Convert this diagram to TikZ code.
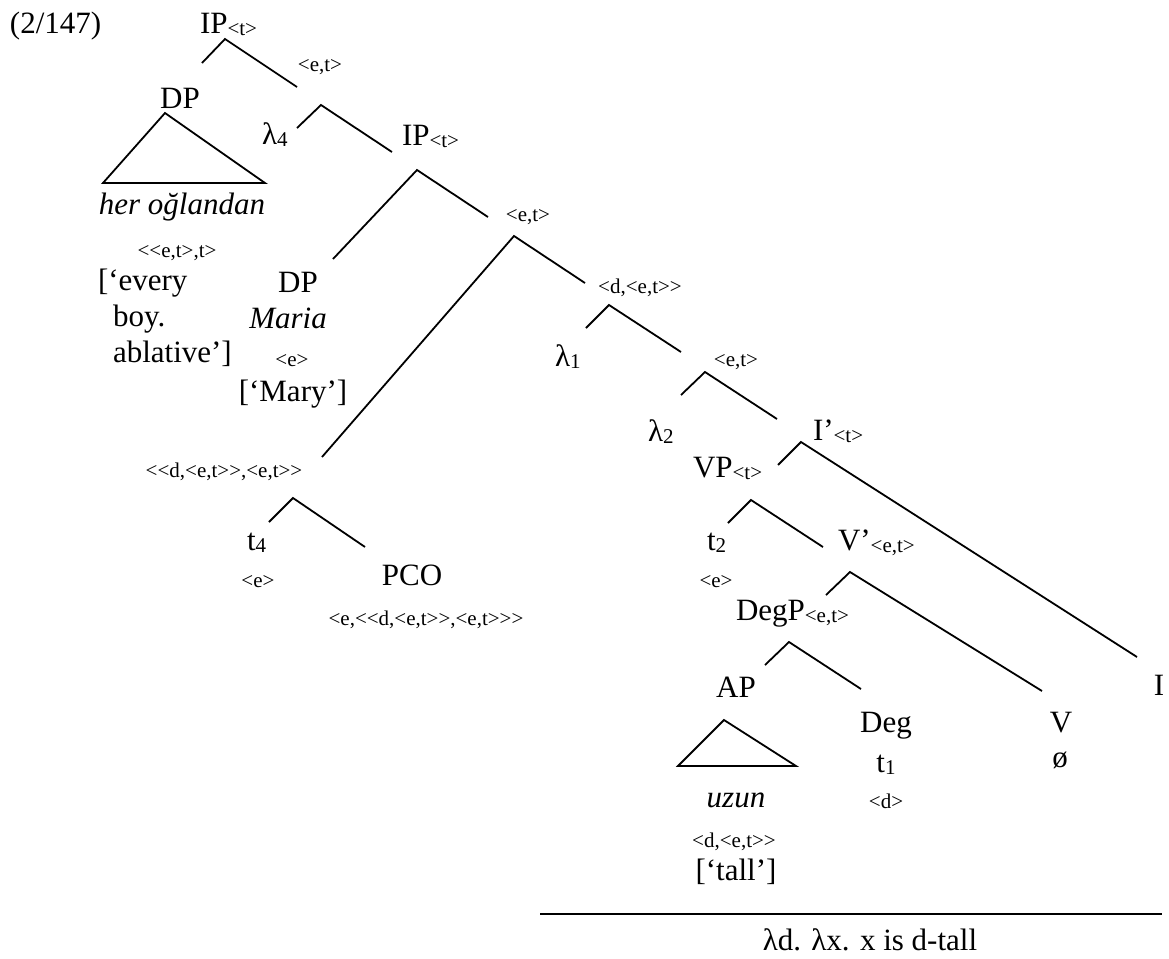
\documentclass[tikz,border=0pt]{standalone}
\usepackage{fontspec}
\setmainfont{Liberation Serif}[Ligatures=TeXOff]
\newcommand\bigfont{\fontsize{15.5}{18}\selectfont}
\newcommand\smfont{\fontsize{10.5}{12}\selectfont}
\newcommand\tsub[1]{\raisebox{-1pt}{\smfont #1}}
\begin{document}
\begin{tikzpicture}[x=0.5pt,y=-0.5pt,
  every node/.style={inner sep=0pt, outer sep=0pt, font=\bigfont},
  lbl/.style={anchor=base},
  lw/.style={anchor=base west},
  ty/.style={anchor=base, font=\smfont},
  br/.style={line width=0.9pt, line join=miter}]
\useasboundingbox (0,0) rectangle (1169,959);

% ---------- labels ----------
\node[lw] (num) at (10,33) {(2/147)};
\node[lw] (ip1) at (200,33) {IP\tsub{<t>}};
\node[ty] (ip1r) at (320,71) {<e,t>};
\node[lbl] (dp1) at (180,108) {DP};
\node[lbl] (her) at (182,214) {\itshape her oğlandan};
\node[ty] (dp1t) at (177,257) {<<e,t>,t>};
\node[lw] (ev1) at (98,290) {[‘every};
\node[lw] (ev2) at (113,326) {boy.};
\node[lw] (ev3) at (113,362) {ablative’]};
\node[lw] (lam4) at (262,144) {λ\tsub{4}};
\node[lw] (ip2) at (402,145) {IP\tsub{<t>}};
\node[ty] (ip2r) at (528,221) {<e,t>};
\node[lbl] (dp2) at (298,292) {DP};
\node[lbl] (maria) at (288,328) {\itshape Maria};
\node[ty] (dp2t) at (292,366) {<e>};
\node[lbl] (mary) at (293,401) {[‘Mary’]};
\node[ty] (pco1t) at (224,477) {<<d,<e,t>>,<e,t>>};
\node[lw] (t4) at (247,550) {t\tsub{4}};
\node[ty] (t4t) at (258,587) {<e>};
\node[lbl] (pco) at (412,585) {PCO};
\node[ty] (pcot) at (426,625) {<e,<<d,<e,t>>,<e,t>>>};
\node[ty] (x1) at (640,293) {<d,<e,t>>};
\node[lw] (lam1) at (555,366) {λ\tsub{1}};
\node[ty] (x2) at (736,366) {<e,t>};
\node[lw] (lam2) at (648,441) {λ\tsub{2}};
\node[lw] (ibar) at (813,440) {I’\tsub{<t>}};
\node[lw] (vp) at (693,477) {VP\tsub{<t>}};
\node[lw] (t2) at (707,550) {t\tsub{2}};
\node[ty] (t2t) at (716,587) {<e>};
\node[lw] (vbar) at (838,550) {V’\tsub{<e,t>}};
\node[lw] (degp) at (736,620) {DegP\tsub{<e,t>}};
\node[lbl] (ap) at (736,697) {AP};
\node[lbl] (deg) at (886,732) {Deg};
\node[lbl] (t1) at (886,772) {t\tsub{1}};
\node[ty] (t1t) at (886,808) {<d>};
\node[lbl] (uzun) at (736,807) {\itshape uzun};
\node[ty] (uzunt) at (734,847) {<d,<e,t>>};
\node[lbl] (tall) at (736,880) {[‘tall’]};
\node[lbl] (v) at (1061,732) {V};
\node[lbl] (vnull) at (1060,767) {ø};
\node[lbl] (i) at (1159,695) {I};
\node[lbl] (gloss) at (870,950) {λd. λx. x is d-tall};

% ---------- branch points ----------
\coordinate (b1) at (225,39);  \coordinate (b1l) at (202,63);  \coordinate (b1r) at (297,87);
\coordinate (tr1) at (165,113); \coordinate (tr1l) at (103,183); \coordinate (tr1r) at (265,183);
\coordinate (b2) at (321,105); \coordinate (b2l) at (297,128); \coordinate (b2r) at (392,152);
\coordinate (b3) at (417,170); \coordinate (b3l) at (333,259); \coordinate (b3r) at (488,217);
\coordinate (b4) at (514,236); \coordinate (b4l) at (322,457); \coordinate (b4r) at (585,283);
\coordinate (b5) at (609,305); \coordinate (b5l) at (586,328); \coordinate (b5r) at (681,352);
\coordinate (b6) at (705,372); \coordinate (b6l) at (681,395); \coordinate (b6r) at (777,419);
\coordinate (b7) at (801,442); \coordinate (b7l) at (778,465); \coordinate (b7r) at (1137,657);
\coordinate (b8) at (751,500); \coordinate (b8l) at (728,523); \coordinate (b8r) at (823,547);
\coordinate (b9) at (850,572); \coordinate (b9l) at (826,595); \coordinate (b9r) at (1042,691);
\coordinate (b10) at (789,642); \coordinate (b10l) at (765,665); \coordinate (b10r) at (861,689);
\coordinate (tr2) at (724,720); \coordinate (tr2l) at (678,766); \coordinate (tr2r) at (796,766);
\coordinate (b11) at (293,498); \coordinate (b11l) at (269,522); \coordinate (b11r) at (365,547);
\coordinate (rulel) at (540,914); \coordinate (ruler) at (1162,914);

% ---------- branches ----------
\draw[br] (b1l) -- (b1) -- (b1r);
\draw[br] (tr1) -- (tr1l) -- (tr1r) -- cycle;
\draw[br] (b2l) -- (b2) -- (b2r);
\draw[br] (b3l) -- (b3) -- (b3r);
\draw[br] (b4l) -- (b4) -- (b4r);
\draw[br] (b5l) -- (b5) -- (b5r);
\draw[br] (b6l) -- (b6) -- (b6r);
\draw[br] (b7l) -- (b7) -- (b7r);
\draw[br] (b8l) -- (b8) -- (b8r);
\draw[br] (b9l) -- (b9) -- (b9r);
\draw[br] (b10l) -- (b10) -- (b10r);
\draw[br] (tr2) -- (tr2l) -- (tr2r) -- cycle;
\draw[br] (b11l) -- (b11) -- (b11r);
\draw[br] (rulel) -- (ruler);
\end{tikzpicture}
\end{document}
